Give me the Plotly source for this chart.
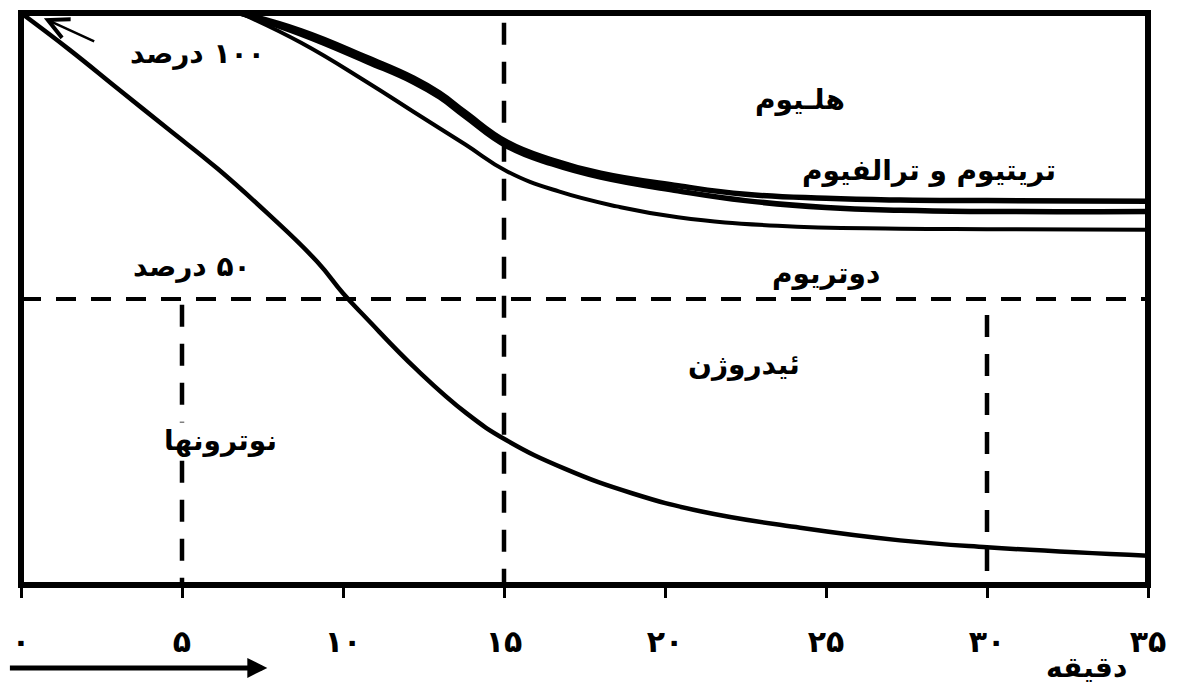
import plotly.graph_objects as go

# ---- data (minutes, percent) ----
neutron_t = [0, 1.5, 3.0, 4.55, 6.1, 7.65, 9.2, 10.0, 10.75, 12.3, 13.84, 15.08, 16.9, 19.0, 21.1, 24.2, 27.3, 30, 35]
neutron_p = [100, 93.6, 86.8, 79.8, 72.8, 65.0, 56.5, 51.0, 46.5, 37.6, 30.0, 25.3, 20.3, 16.0, 12.9, 10.0, 7.8, 6.6, 5.1]

deut_t = [6.8, 8.7, 10.75, 12.2, 13.8, 15.1, 16.7, 18.5, 20.4, 23.5, 27.3, 30, 35]
deut_p = [100, 94.8, 87.9, 82.7, 77.0, 72.3, 68.8, 66.2, 64.3, 62.8, 62.3, 62.2, 62.1]

trit_t = [6.8, 8.7, 10.75, 12.2, 13.0, 13.8, 15.1, 16.5, 18.0, 20.4, 22.5, 25, 27.3, 30, 35]
trit_p = [100, 96.3, 91.5, 87.9, 85.3, 81.9, 76.7, 73.6, 71.3, 68.9, 67.2, 66.0, 65.5, 65.3, 65.3]

hel_t = [6.8, 8.7, 10.75, 12.2, 13.0, 13.8, 15.1, 16.5, 18.0, 20.4, 22.5, 25, 27.3, 30, 35]
hel_p = [100, 96.9, 92.2, 88.6, 86.0, 82.6, 77.4, 74.3, 72.0, 69.8, 68.3, 67.6, 67.3, 67.2, 67.1]

tick_vals = [0, 5, 10, 15, 20, 25, 30, 35]
tick_text = ["۰", "۵", "۱۰", "۱۵", "۲۰", "۲۵", "۳۰", "۳۵"]

half_level = 50
vlines = [(15, 98.3), (5, 49.0), (30, 47.2)]  # (minute, top percent)

labels = [
    ("\u200f۱۰۰ درصد", 5.48, 93.0, False),
    ("\u200f۵۰ درصد", 5.3, 55.6, False),
    ("هلـیوم", 24.2, 84.8, False),
    ("تریتیوم و ترالفیوم", 28.2, 72.5, False),
    ("دوتریوم", 25.0, 54.5, False),
    ("ئیدروژن", 22.45, 38.5, False),
    ("نوترونها", 6.2, 25.3, True),
]
minute_label = ("دقیقه", 33.1, -14.5)
time_arrow = (-0.37, 7.65, -14.5)   # tail minute, head minute, level

FONT = "DejaVu Sans"
X_MIN, X_MAX, Y_MIN, Y_MAX = 0, 35, 0, 100

fig = go.Figure()
for t, p, w in [(neutron_t, neutron_p, 4.5), (deut_t, deut_p, 4),
                (trit_t, trit_p, 5.5), (hel_t, hel_p, 5.5)]:
    fig.add_trace(go.Scatter(x=t, y=p, mode="lines",
                             line=dict(color="black", width=w, shape="spline", smoothing=1.3),
                             hoverinfo="skip", showlegend=False))

shapes = []
shapes.append(dict(type="line", xref="x", yref="y", x0=0, x1=35, y0=half_level, y1=half_level,
                   line=dict(color="black", width=4, dash="20px,15px")))
for xv, top in vlines:
    shapes.append(dict(type="line", xref="x", yref="y", x0=xv, x1=xv, y0=top, y1=0,
                       line=dict(color="black", width=4.5, dash="22px,17px")))
shapes.append(dict(type="rect", xref="paper", yref="paper", x0=0, x1=1, y0=0, y1=1,
                   line=dict(color="black", width=6), layer="above"))

annotations = []
for txt, xv, yv, bg in labels:
    annotations.append(dict(text=txt, x=xv, y=yv, xref="x", yref="y", showarrow=False,
                            bgcolor="white" if bg else "rgba(0,0,0,0)",
                            font=dict(family=FONT, size=28, color="black", weight="bold")))
# minute label below axis (paper coords derived from data values)
annotations.append(dict(text=minute_label[0],
                        x=(minute_label[1] - X_MIN) / (X_MAX - X_MIN),
                        y=(minute_label[2] - Y_MIN) / (Y_MAX - Y_MIN),
                        xref="paper", yref="paper", xanchor="center", yanchor="middle",
                        showarrow=False,
                        font=dict(family=FONT, size=28, color="black", weight="bold")))
# arrow to 100% corner
annotations.append(dict(text="", x=0.71, y=99.1, ax=2.32, ay=94.9, xref="x", yref="y",
                        axref="x", ayref="y", showarrow=True, arrowhead=5, arrowsize=1.6,
                        arrowwidth=2.5, arrowcolor="black"))
# time arrow
px_per_min = 1130 / (X_MAX - X_MIN)
annotations.append(dict(text="",
                        x=(time_arrow[1] - X_MIN) / (X_MAX - X_MIN),
                        y=(time_arrow[2] - Y_MIN) / (Y_MAX - Y_MIN),
                        xref="paper", yref="paper",
                        ax=-(time_arrow[1] - time_arrow[0]) * px_per_min, ay=0,
                        axref="pixel", ayref="pixel",
                        showarrow=True, arrowhead=2, arrowsize=0.8,
                        arrowwidth=5, arrowcolor="black"))

fig.update_layout(
    width=1178, height=689,
    margin=dict(l=20, r=28, t=13, b=104),
    paper_bgcolor="white", plot_bgcolor="white",
    shapes=shapes, annotations=annotations,
    xaxis=dict(range=[X_MIN, X_MAX], showgrid=False, zeroline=False, showline=False,
               tickmode="array", tickvals=tick_vals, ticktext=tick_text,
               ticks="outside", ticklen=12, tickwidth=3, tickcolor="black",
               ticklabelstandoff=18,
               tickfont=dict(family=FONT, size=30, color="black", weight="bold")),
    yaxis=dict(range=[Y_MIN, Y_MAX], showgrid=False, zeroline=False, showline=False,
               showticklabels=False, ticks=""),
)

fig.write_html("out.html", config={"displayModeBar": False},
               post_script="document.body.style.margin='0';")
